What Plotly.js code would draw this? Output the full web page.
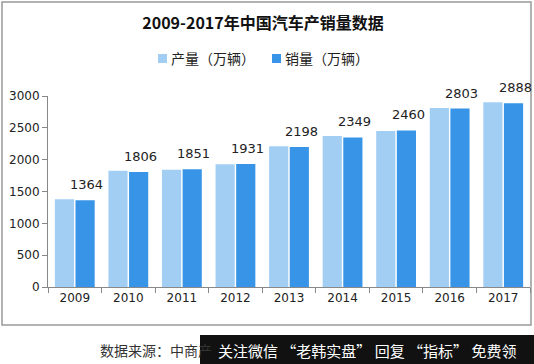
<!DOCTYPE html>
<html><head><meta charset="utf-8">
<script src="https://cdn.plot.ly/plotly-3.0.1.min.js"></script>
<style>html,body{margin:0;padding:0;background:#fff}#chart{width:534px;height:364px}</style>
</head><body><div id="chart"></div>
<script>
const years = ['2009','2010','2011','2012','2013','2014','2015','2016','2017'];
const production = [1379, 1826, 1842, 1927, 2212, 2372, 2450, 2812, 2902];
const sales = [1364, 1806, 1851, 1931, 2198, 2349, 2460, 2803, 2888];
const seriesNames = ['产量（万辆）', '销量（万辆）'];
const seriesColors = ['#A3CEF4', '#3794E6'];
const titleText = '2009-2017年中国汽车产销量数据';
const sourceText = '数据来源：中商产';
const bannerText = '关注微信 “老韩实盘” 回复 “指标” 免费领';

const PL = 48, PR = 530, PT = 96, PB = 287;
const px = x => (x - PL) / (PR - PL);
const py = y => (PB - y) / (PB - PT);

const traces = [
  {type:'bar', x: years, y: production, name: seriesNames[0], marker:{color:seriesColors[0]}, hoverinfo:'skip'},
  {type:'bar', x: years, y: sales, name: seriesNames[1], marker:{color:seriesColors[1]}, hoverinfo:'skip'}
];

const annotations = years.map((yr, i) => ({
  x: i, y: sales[i], xref:'x', yref:'y', text: String(sales[i]),
  showarrow:false, xshift: 12, yanchor:'bottom', yshift: 6,
  font:{family:'"DejaVu Sans", sans-serif', size:13, color:'#222'}
}));
// custom legend (small squares, tight spacing)
const legendX = [158, 272];
const shapes = [
  {type:'rect', xref:'paper', yref:'paper', x0:px(2), x1:px(531), y0:py(325), y1:py(2),
    line:{color:'#999', width:1.5}, fillcolor:'rgba(0,0,0,0)', layer:'below'},
  {type:'rect', xref:'paper', yref:'paper', x0:px(200), x1:px(536), y0:py(366), y1:py(335),
    line:{width:0}, fillcolor:'#111', layer:'above'}
];
seriesNames.forEach((nm, k) => {
  shapes.push({type:'rect', xref:'paper', yref:'paper', x0:px(legendX[k]), x1:px(legendX[k]+9),
    y0:py(63), y1:py(54), line:{width:0}, fillcolor:seriesColors[k]});
  annotations.push({x:px(legendX[k]+11), y:py(58), xref:'paper', yref:'paper', xanchor:'left', yanchor:'middle',
    text:nm, showarrow:false, font:{family:'"Noto Sans CJK SC", sans-serif', size:14, color:'#222'}});
});
annotations.push({
  x: px(98), y: py(350), xref:'paper', yref:'paper', xanchor:'left', yanchor:'middle',
  text: sourceText, showarrow:false, font:{family:'"Noto Sans CJK SC", sans-serif', size:14, color:'#333'}
});
annotations.push({
  x: px(367), y: py(350), xref:'paper', yref:'paper', xanchor:'center', yanchor:'middle',
  text: bannerText, showarrow:false, font:{family:'"Noto Sans CJK SC", sans-serif', size:15, color:'#fff'}
});

const layout = {
  width:534, height:364,
  margin:{l:PL, r:534-PR, t:PT, b:364-PB, pad:0},
  paper_bgcolor:'#fff', plot_bgcolor:'#fff',
  title:{text: titleText, x: 263/534, xanchor:'center', y: 1-23/364, yanchor:'middle',
    font:{family:'"Noto Sans CJK SC", serif', size:16, color:'#111', weight:'bold'}},
  barmode:'group', bargap:0.23, bargroupgap:0.07,
  showlegend:false,
  xaxis:{type:'category', range:[-0.5, 8.5], tickson:'boundaries', ticks:'outside', ticklen:5, tickcolor:'#888',
    showline:true, linecolor:'#888', linewidth:1, showgrid:false,
    tickfont:{family:'"DejaVu Sans", sans-serif', size:12, color:'#222'}},
  yaxis:{range:[0,3000], tickvals:[0,500,1000,1500,2000,2500,3000], ticks:'outside', ticklen:5,
    tickcolor:'#888', showline:true, linecolor:'#888', linewidth:1, showgrid:false, zeroline:false,
    tickfont:{family:'"DejaVu Sans", sans-serif', size:12, color:'#222'}},
  shapes: shapes,
  annotations: annotations
};
Plotly.newPlot('chart', traces, layout, {staticPlot:true, displayModeBar:false});
</script></body></html>
